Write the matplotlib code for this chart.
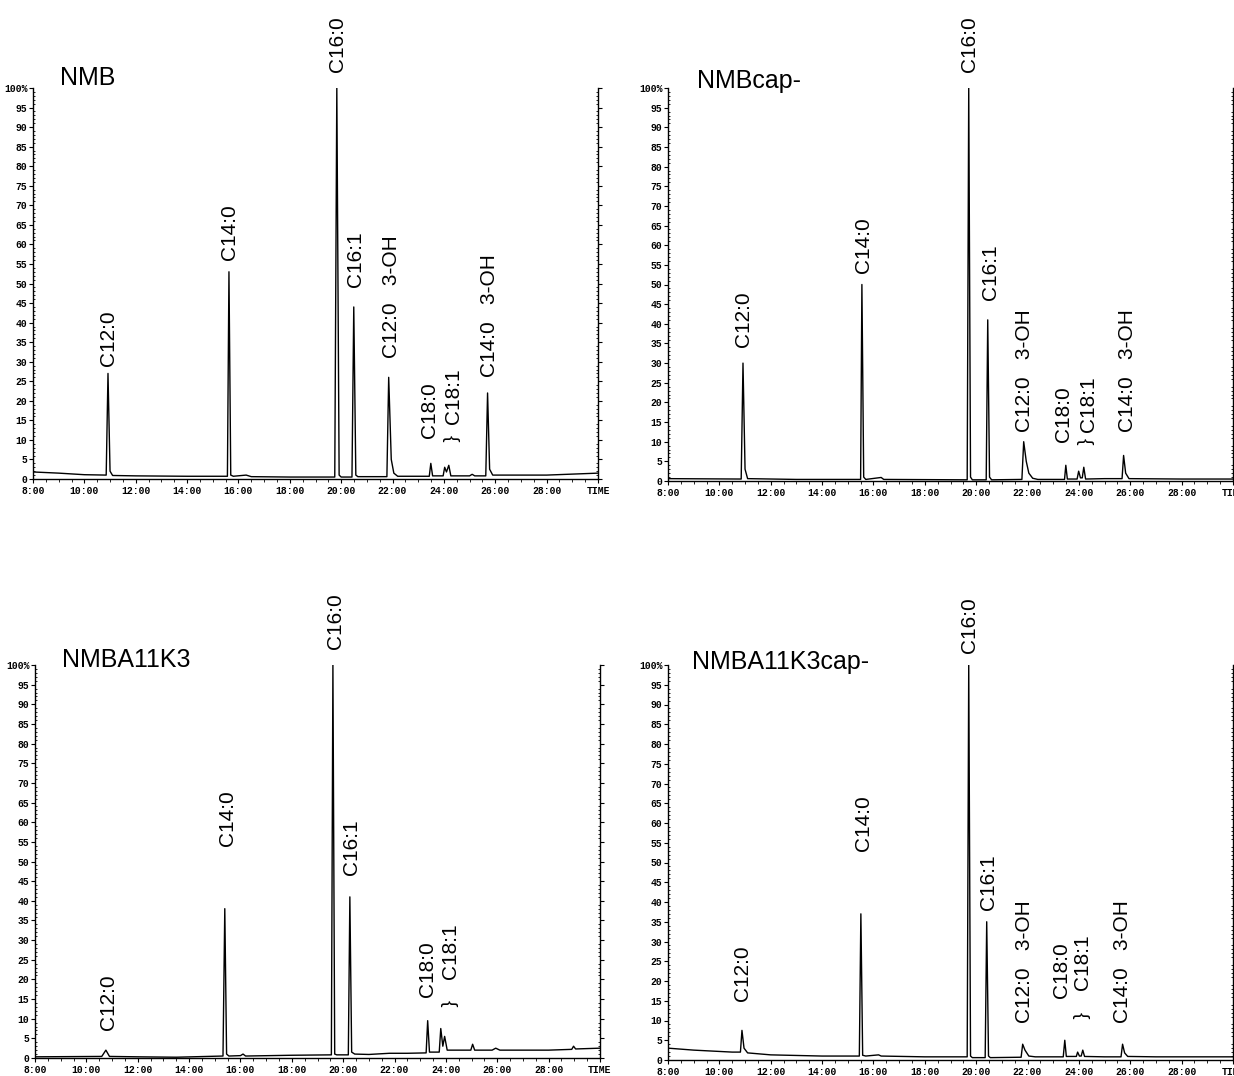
import matplotlib
matplotlib.use("Agg")
import matplotlib.pyplot as plt
from matplotlib.ticker import MultipleLocator, FixedLocator, FixedFormatter

# ---------------- data ----------------
x_ticks = [8, 10, 12, 14, 16, 18, 20, 22, 24, 26, 28, 30]
x_tick_labels = ["8:00", "10:00", "12:00", "14:00", "16:00", "18:00",
                 "20:00", "22:00", "24:00", "26:00", "28:00", "TIME"]
y_ticks = list(range(0, 101, 5))
y_tick_labels = [str(v) for v in y_ticks[:-1]] + ["100%"]

panel_titles = ["NMB", "NMBcap-", "NMBA11K3", "NMBA11K3cap-"]

# trace points (time in minutes, relative abundance %)
nmb_time = [8.0, 9.0, 10.0, 10.85, 10.92, 11.0, 11.1, 12.0, 14.0, 15.57, 15.63, 15.70,
            15.8, 16.3, 16.5, 18.0, 19.75, 19.83, 19.92, 20.0, 20.42, 20.49, 20.57,
            20.65, 21.78, 21.85, 21.95, 22.05, 22.2, 23.43, 23.49, 23.56, 23.97,
            24.03, 24.1, 24.19, 24.27, 25.0, 25.1, 25.2, 25.63, 25.70, 25.78, 25.9,
            28.0, 30.0]
nmb_signal = [1.8, 1.5, 1.1, 1.0, 27.0, 2.0, 0.9, 0.8, 0.7, 0.7, 53.0, 1.0,
              0.7, 1.0, 0.6, 0.5, 0.5, 100.0, 1.0, 0.5, 0.5, 44.0, 1.0,
              0.6, 0.6, 26.0, 5.0, 1.5, 0.7, 0.7, 4.0, 0.8, 0.8,
              3.0, 1.8, 3.5, 0.8, 0.8, 1.2, 0.8, 0.8, 22.0, 2.5, 1.0,
              1.0, 1.5]

nmbcap_time = [8.0, 10.85, 10.92, 11.0, 11.1, 13.0, 15.5, 15.55, 15.62, 15.7, 16.3,
               16.4, 19.65, 19.71, 19.78, 19.85, 20.39, 20.45, 20.52, 20.6, 21.78,
               21.85, 21.95, 22.05, 22.2, 22.4, 23.44, 23.49, 23.55, 23.93, 23.99,
               24.06, 24.13, 24.19, 24.26, 25.0, 25.68, 25.74, 25.82, 25.95, 28.0, 30.0]
nmbcap_signal = [0.6, 0.5, 30.0, 3.0, 0.6, 0.4, 0.4, 50.0, 1.0, 0.4, 0.9,
                 0.4, 0.3, 100.0, 1.0, 0.3, 0.3, 41.0, 1.0, 0.3, 0.4,
                 10.0, 5.0, 2.0, 0.7, 0.4, 0.4, 4.0, 0.5, 0.5, 2.5,
                 0.8, 0.8, 3.5, 0.5, 0.6, 0.6, 6.5, 2.0, 0.6, 0.5, 0.5]

nmba_time = [8.0, 10.6, 10.76, 10.9, 12.0, 13.5, 15.32, 15.39, 15.46, 15.55, 16.0,
             16.1, 16.2, 18.0, 19.54, 19.6, 19.67, 19.75, 20.2, 20.26, 20.33, 20.45,
             21.0, 21.8, 22.5, 23.23, 23.29, 23.36, 23.74, 23.8, 23.88, 23.95, 24.05,
             24.5, 24.97, 25.04, 25.12, 25.8, 25.94, 26.1, 28.0, 28.9, 28.97, 29.05, 30.0]
nmba_signal = [0.3, 0.4, 2.0, 0.4, 0.3, 0.2, 0.5, 38.0, 1.0, 0.5, 0.6,
               1.0, 0.5, 0.7, 0.8, 100.0, 1.0, 0.8, 0.8, 41.0, 1.5, 1.0,
               0.9, 1.2, 1.2, 1.3, 9.5, 1.5, 1.5, 7.5, 3.0, 5.5, 2.0,
               2.0, 2.0, 3.5, 2.0, 2.0, 2.5, 2.0, 2.0, 2.2, 3.0, 2.3, 2.5]

nmbacap_time = [8.0, 9.0, 10.5, 10.82, 10.88, 10.96, 11.1, 12.0, 14.0, 15.45, 15.51,
                15.58, 15.7, 16.2, 16.3, 18.0, 19.65, 19.71, 19.78, 19.85, 20.35, 20.41,
                20.48, 20.55, 21.75, 21.81, 21.9, 22.05, 22.3, 23.39, 23.45, 23.51, 23.9,
                23.95, 24.02, 24.09, 24.15, 24.22, 25.0, 25.64, 25.7, 25.78, 25.9, 27.0, 30.0]
nmbacap_signal = [3.0, 2.5, 2.0, 2.0, 7.5, 3.0, 1.8, 1.3, 1.0, 1.0, 37.0,
                  1.2, 1.0, 1.3, 1.0, 0.8, 0.8, 100.0, 1.0, 0.6, 0.6, 35.0,
                  1.0, 0.6, 0.7, 4.0, 2.5, 1.0, 0.8, 0.8, 5.0, 0.9, 0.9,
                  2.0, 1.0, 1.0, 2.5, 0.9, 0.8, 0.8, 4.0, 1.8, 0.9, 0.8, 0.8]

# peak labels: text, x (min), y bottom (%)
nmb_labels = ["C12:0", "C14:0", "C16:0", "C16:1", "C12:0   3-OH", "C18:0", "C18:1", "C14:0   3-OH"]
nmb_label_x = [10.95, 15.66, 19.86, 20.55, 21.95, 23.42, 24.38, 25.77]
nmb_label_y = [29, 56, 104, 49, 31, 10.5, 14, 26]
nmb_brace = (24.25, 10.5)

nmbcap_labels = ["C12:0", "C14:0", "C16:0", "C16:1", "C12:0   3-OH", "C18:0", "C18:1", "C14:0   3-OH"]
nmbcap_label_x = [10.95, 15.6, 19.74, 20.57, 21.89, 23.41, 24.38, 25.9]
nmbcap_label_y = [34, 53, 104, 46, 12.5, 10, 12.5, 12.5]
nmbcap_brace = (24.2, 10)

nmba_labels = ["C12:0", "C14:0", "C16:0", "C16:1", "C18:0", "C18:1"]
nmba_label_x = [10.88, 15.5, 19.7, 20.33, 23.29, 24.19]
nmba_label_y = [7, 54, 104, 46.5, 15.5, 20]
nmba_brace = (24.07, 14)

nmbacap_labels = ["C12:0", "C14:0", "C16:0", "C16:1", "C12:0   3-OH", "C18:0", "C18:1", "C14:0   3-OH"]
nmbacap_label_x = [10.92, 15.63, 19.75, 20.49, 21.9, 23.33, 24.15, 25.7]
nmbacap_label_y = [15, 53, 103, 38, 9.4, 15.7, 17.7, 9.4]
nmbacap_brace = (24.05, 11.4)

# ---------------- drawing ----------------
W, H = 1234, 1076
fig = plt.figure(figsize=(W / 100, H / 100), dpi=100)

def px_axes(x0, x1, ytop, ybot):
    return [x0 / W, (H - ybot) / H, (x1 - x0) / W, (ybot - ytop) / H]

panels = [
    (px_axes(33, 598, 88, 479), nmb_time, nmb_signal, nmb_labels, nmb_label_x, nmb_label_y,
     nmb_brace, (0.048, 1.008)),
    (px_axes(668, 1233, 88, 481), nmbcap_time, nmbcap_signal, nmbcap_labels, nmbcap_label_x,
     nmbcap_label_y, nmbcap_brace, (0.051, 1.0)),
    (px_axes(35, 600, 665, 1058), nmba_time, nmba_signal, nmba_labels, nmba_label_x,
     nmba_label_y, nmba_brace, (0.048, 0.995)),
    (px_axes(668, 1233, 665, 1060), nmbacap_time, nmbacap_signal, nmbacap_labels,
     nmbacap_label_x, nmbacap_label_y, nmbacap_brace, (0.042, 0.99)),
]

label_font = ["Liberation Sans", "DejaVu Sans"]
tick_font = ["Liberation Mono", "DejaVu Sans Mono"]

for (rect, t, s, labs, lx, ly, brace, tpos), title in zip(panels, panel_titles):
    ax = fig.add_axes(rect)
    ax.plot(t, s, color="black", lw=1.0)
    ax.set_xlim(8, 30)
    ax.set_ylim(0, 100)
    ax.spines["top"].set_visible(False)
    for sp in ["left", "right", "bottom"]:
        ax.spines[sp].set_linewidth(1.0)
    ax.xaxis.set_major_locator(FixedLocator(x_ticks))
    ax.xaxis.set_major_formatter(FixedFormatter(x_tick_labels))
    ax.xaxis.set_minor_locator(MultipleLocator(0.5))
    ax.yaxis.set_major_locator(FixedLocator(y_ticks))
    ax.yaxis.set_major_formatter(FixedFormatter(y_tick_labels))
    ax.yaxis.set_minor_locator(MultipleLocator(1))
    ax.tick_params(axis="x", which="major", direction="out", length=3, width=0.8, pad=2)
    ax.tick_params(axis="x", which="minor", direction="out", length=2, width=0.6)
    ax.tick_params(axis="y", which="major", direction="out", length=3, width=0.8, pad=1,
                   right=True)
    ax.tick_params(axis="y", which="minor", direction="in", length=1.5, width=0.6,
                   right=True)
    for lab in ax.get_xticklabels() + ax.get_yticklabels():
        lab.set_family(tick_font)
        lab.set_fontweight("bold")
        lab.set_fontsize(7)
    ax.text(tpos[0], tpos[1], title, transform=ax.transAxes, ha="left", va="baseline",
            fontsize=18, family=label_font)
    for txt, x, y in zip(labs, lx, ly):
        ax.text(x, y, txt, rotation=90, ha="center", va="bottom", fontsize=15,
                family=label_font, clip_on=False)
    ax.text(brace[0], brace[1], "{", rotation=-90, ha="center", va="center",
            fontsize=14, family=label_font)

fig.savefig("out.png", dpi=100)
